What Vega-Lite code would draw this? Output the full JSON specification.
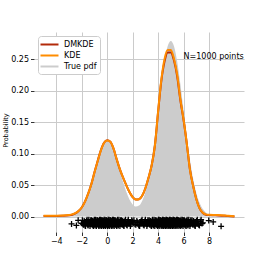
{
  "$schema": "https://vega.github.io/schema/vega-lite/v6.json",
  "width": 210,
  "height": 200,
  "autosize": {"type": "none"},
  "padding": {"left": 34, "top": 32, "right": 26, "bottom": 38},
  "background": "white",
  "config": {
    "view": {"stroke": null},
    "font": "DejaVu Sans",
    "axis": {
      "domain": false,
      "grid": true,
      "gridColor": "#cbcbcb",
      "gridWidth": 1,
      "tickColor": "#333333",
      "tickSize": 3.5,
      "tickWidth": 1,
      "labelFont": "DejaVu Sans",
      "labelFontSize": 8,
      "labelColor": "#000000",
      "labelPadding": 2,
      "titleFont": "DejaVu Sans",
      "titleFontWeight": "normal",
      "titleColor": "#000000"
    }
  },
  "datasets": {
    "pdf": [
      {"x": -5, "y": 0}, {"x": -4, "y": 0.00004}, {"x": -3.5, "y": 0.00026}, {"x": -3, "y": 0.00133},
      {"x": -2.75, "y": 0.00273}, {"x": -2.5, "y": 0.00526}, {"x": -2.25, "y": 0.00952}, {"x": -2, "y": 0.0162},
      {"x": -1.75, "y": 0.02588}, {"x": -1.5, "y": 0.03886}, {"x": -1.25, "y": 0.0548}, {"x": -1, "y": 0.07259},
      {"x": -0.75, "y": 0.09034}, {"x": -0.5, "y": 0.10562}, {"x": -0.25, "y": 0.116}, {"x": 0, "y": 0.11968},
      {"x": 0.25, "y": 0.116}, {"x": 0.5, "y": 0.10562}, {"x": 0.75, "y": 0.09034}, {"x": 1, "y": 0.07268},
      {"x": 1.25, "y": 0.05504}, {"x": 1.5, "y": 0.03947}, {"x": 1.75, "y": 0.0273}, {"x": 2, "y": 0.0193},
      {"x": 2.25, "y": 0.01588}, {"x": 2.5, "y": 0.01753}, {"x": 2.75, "y": 0.02495}, {"x": 3, "y": 0.03912},
      {"x": 3.25, "y": 0.06101}, {"x": 3.5, "y": 0.09092}, {"x": 3.75, "y": 0.12797}, {"x": 4, "y": 0.16942},
      {"x": 4.25, "y": 0.2108}, {"x": 4.5, "y": 0.24645}, {"x": 4.75, "y": 0.27067}, {"x": 5, "y": 0.27926},
      {"x": 5.25, "y": 0.27067}, {"x": 5.5, "y": 0.24645}, {"x": 5.75, "y": 0.2108}, {"x": 6, "y": 0.16938},
      {"x": 6.25, "y": 0.12786}, {"x": 6.5, "y": 0.09066}, {"x": 6.75, "y": 0.0604}, {"x": 7, "y": 0.03779},
      {"x": 7.25, "y": 0.02222}, {"x": 7.5, "y": 0.01227}, {"x": 7.75, "y": 0.00636}, {"x": 8, "y": 0.0031},
      {"x": 8.5, "y": 0.00061}, {"x": 9, "y": 0.00009}, {"x": 10, "y": 0}
    ],
    "dmkde": [
      {"x": -5, "y": 0.0008}, {"x": -4.5, "y": 0.0008}, {"x": -4, "y": 0.0009}, {"x": -3.5, "y": 0.0012},
      {"x": -3, "y": 0.002}, {"x": -2.75, "y": 0.003}, {"x": -2.5, "y": 0.005}, {"x": -2.25, "y": 0.0088},
      {"x": -2, "y": 0.0145}, {"x": -1.75, "y": 0.0237}, {"x": -1.5, "y": 0.0363}, {"x": -1.25, "y": 0.0515},
      {"x": -1, "y": 0.0705}, {"x": -0.75, "y": 0.0885}, {"x": -0.5, "y": 0.1055}, {"x": -0.25, "y": 0.1175},
      {"x": 0, "y": 0.1215}, {"x": 0.25, "y": 0.119}, {"x": 0.5, "y": 0.108}, {"x": 0.75, "y": 0.091},
      {"x": 1, "y": 0.075}, {"x": 1.25, "y": 0.062}, {"x": 1.5, "y": 0.05}, {"x": 1.75, "y": 0.039},
      {"x": 2, "y": 0.031}, {"x": 2.25, "y": 0.027}, {"x": 2.5, "y": 0.0275}, {"x": 2.75, "y": 0.033},
      {"x": 3, "y": 0.045}, {"x": 3.25, "y": 0.062}, {"x": 3.5, "y": 0.082}, {"x": 3.75, "y": 0.113},
      {"x": 4, "y": 0.166}, {"x": 4.25, "y": 0.215}, {"x": 4.5, "y": 0.246}, {"x": 4.75, "y": 0.261},
      {"x": 5, "y": 0.261}, {"x": 5.25, "y": 0.248}, {"x": 5.5, "y": 0.223}, {"x": 5.75, "y": 0.185},
      {"x": 6, "y": 0.154}, {"x": 6.25, "y": 0.117}, {"x": 6.5, "y": 0.075}, {"x": 6.75, "y": 0.049},
      {"x": 7, "y": 0.028}, {"x": 7.25, "y": 0.0135}, {"x": 7.5, "y": 0.006}, {"x": 7.75, "y": 0.003},
      {"x": 8, "y": 0.0025}, {"x": 8.5, "y": 0.002}, {"x": 9, "y": 0.0015}, {"x": 9.5, "y": 0.0008}, {"x": 10, "y": 0.0003}
    ],
    "kde": [
      {"x": -5, "y": 0.0015}, {"x": -4.5, "y": 0.0015}, {"x": -4, "y": 0.0015}, {"x": -3.5, "y": 0.0017},
      {"x": -3, "y": 0.0025}, {"x": -2.75, "y": 0.0035}, {"x": -2.5, "y": 0.0055}, {"x": -2.25, "y": 0.009},
      {"x": -2, "y": 0.0145}, {"x": -1.75, "y": 0.0235}, {"x": -1.5, "y": 0.036}, {"x": -1.25, "y": 0.051},
      {"x": -1, "y": 0.07}, {"x": -0.75, "y": 0.088}, {"x": -0.5, "y": 0.105}, {"x": -0.25, "y": 0.117},
      {"x": 0, "y": 0.121}, {"x": 0.25, "y": 0.119}, {"x": 0.5, "y": 0.108}, {"x": 0.75, "y": 0.091},
      {"x": 1, "y": 0.075}, {"x": 1.25, "y": 0.062}, {"x": 1.5, "y": 0.05}, {"x": 1.75, "y": 0.039},
      {"x": 2, "y": 0.031}, {"x": 2.25, "y": 0.027}, {"x": 2.5, "y": 0.0275}, {"x": 2.75, "y": 0.033},
      {"x": 3, "y": 0.045}, {"x": 3.25, "y": 0.062}, {"x": 3.5, "y": 0.082}, {"x": 3.75, "y": 0.113},
      {"x": 4, "y": 0.167}, {"x": 4.25, "y": 0.217}, {"x": 4.5, "y": 0.25}, {"x": 4.75, "y": 0.265},
      {"x": 5, "y": 0.265}, {"x": 5.25, "y": 0.251}, {"x": 5.5, "y": 0.226}, {"x": 5.75, "y": 0.187},
      {"x": 6, "y": 0.155}, {"x": 6.25, "y": 0.117}, {"x": 6.5, "y": 0.075}, {"x": 6.75, "y": 0.049},
      {"x": 7, "y": 0.028}, {"x": 7.25, "y": 0.0135}, {"x": 7.5, "y": 0.0065}, {"x": 7.75, "y": 0.0035},
      {"x": 8, "y": 0.003}, {"x": 8.5, "y": 0.0025}, {"x": 9, "y": 0.002}, {"x": 9.5, "y": 0.0012}, {"x": 10, "y": 0.0005}
    ],
    "samples": [
      {"x": -2.8, "y": -0.0116}, {"x": -2.42, "y": -0.014}, {"x": -2.28, "y": -0.006}, {"x": -2.02, "y": -0.0106},
      {"x": -1.95, "y": -0.006}, {"x": -1.85, "y": -0.013}, {"x": -1.78, "y": -0.009}, {"x": -1.7, "y": -0.015},
      {"x": -1.62, "y": -0.007}, {"x": -1.55, "y": -0.011}, {"x": -1.5, "y": -0.014}, {"x": -1.44, "y": -0.005},
      {"x": -1.38, "y": -0.01}, {"x": -1.32, "y": -0.012}, {"x": -1.27, "y": -0.008}, {"x": -1.22, "y": -0.006},
      {"x": -1.17, "y": -0.013}, {"x": -1.12, "y": -0.009}, {"x": -1.08, "y": -0.015}, {"x": -1.03, "y": -0.007},
      {"x": -0.99, "y": -0.011}, {"x": -0.95, "y": -0.014}, {"x": -0.91, "y": -0.005}, {"x": -0.87, "y": -0.01},
      {"x": -0.83, "y": -0.012}, {"x": -0.79, "y": -0.008}, {"x": -0.75, "y": -0.006}, {"x": -0.72, "y": -0.013},
      {"x": -0.68, "y": -0.009}, {"x": -0.65, "y": -0.015}, {"x": -0.61, "y": -0.007}, {"x": -0.58, "y": -0.011},
      {"x": -0.55, "y": -0.014}, {"x": -0.51, "y": -0.005}, {"x": -0.48, "y": -0.01}, {"x": -0.45, "y": -0.012},
      {"x": -0.42, "y": -0.008}, {"x": -0.39, "y": -0.006}, {"x": -0.36, "y": -0.013}, {"x": -0.33, "y": -0.009},
      {"x": -0.3, "y": -0.015}, {"x": -0.27, "y": -0.007}, {"x": -0.24, "y": -0.011}, {"x": -0.21, "y": -0.014},
      {"x": -0.18, "y": -0.005}, {"x": -0.15, "y": -0.01}, {"x": -0.12, "y": -0.012}, {"x": -0.09, "y": -0.008},
      {"x": -0.06, "y": -0.006}, {"x": -0.03, "y": -0.013}, {"x": 0, "y": -0.009}, {"x": 0.03, "y": -0.015},
      {"x": 0.06, "y": -0.007}, {"x": 0.09, "y": -0.011}, {"x": 0.12, "y": -0.014}, {"x": 0.15, "y": -0.005},
      {"x": 0.18, "y": -0.01}, {"x": 0.21, "y": -0.012}, {"x": 0.24, "y": -0.008}, {"x": 0.27, "y": -0.006},
      {"x": 0.3, "y": -0.013}, {"x": 0.33, "y": -0.009}, {"x": 0.36, "y": -0.015}, {"x": 0.39, "y": -0.007},
      {"x": 0.42, "y": -0.011}, {"x": 0.46, "y": -0.014}, {"x": 0.49, "y": -0.005}, {"x": 0.53, "y": -0.01},
      {"x": 0.56, "y": -0.012}, {"x": 0.6, "y": -0.008}, {"x": 0.63, "y": -0.006}, {"x": 0.67, "y": -0.013},
      {"x": 0.71, "y": -0.009}, {"x": 0.75, "y": -0.015}, {"x": 0.79, "y": -0.007}, {"x": 0.83, "y": -0.011},
      {"x": 0.87, "y": -0.014}, {"x": 0.92, "y": -0.005}, {"x": 0.97, "y": -0.01}, {"x": 1.02, "y": -0.012},
      {"x": 1.07, "y": -0.008}, {"x": 1.13, "y": -0.006}, {"x": 1.19, "y": -0.013}, {"x": 1.25, "y": -0.009},
      {"x": 1.32, "y": -0.015}, {"x": 1.4, "y": -0.007}, {"x": 1.48, "y": -0.011}, {"x": 1.57, "y": -0.014},
      {"x": 1.66, "y": -0.005}, {"x": 1.76, "y": -0.01}, {"x": 1.87, "y": -0.012}, {"x": 1.98, "y": -0.008},
      {"x": 2.1, "y": -0.006}, {"x": 2.25, "y": -0.013}, {"x": 2.4, "y": -0.009}, {"x": 2.55, "y": -0.015},
      {"x": 2.68, "y": -0.007}, {"x": 2.8, "y": -0.011}, {"x": 2.9, "y": -0.014}, {"x": 3.0, "y": -0.005},
      {"x": 3.08, "y": -0.01}, {"x": 3.16, "y": -0.012}, {"x": 3.23, "y": -0.008}, {"x": 3.3, "y": -0.006},
      {"x": 3.36, "y": -0.013}, {"x": 3.42, "y": -0.009}, {"x": 3.48, "y": -0.015}, {"x": 3.53, "y": -0.007},
      {"x": 3.58, "y": -0.011}, {"x": 3.63, "y": -0.014}, {"x": 3.68, "y": -0.005}, {"x": 3.72, "y": -0.01},
      {"x": 3.76, "y": -0.012}, {"x": 3.8, "y": -0.008}, {"x": 3.84, "y": -0.006}, {"x": 3.88, "y": -0.013},
      {"x": 3.92, "y": -0.009}, {"x": 3.96, "y": -0.015}, {"x": 4.0, "y": -0.007}, {"x": 4.03, "y": -0.011},
      {"x": 4.06, "y": -0.014}, {"x": 4.09, "y": -0.005}, {"x": 4.12, "y": -0.01}, {"x": 4.15, "y": -0.012},
      {"x": 4.18, "y": -0.008}, {"x": 4.21, "y": -0.006}, {"x": 4.24, "y": -0.013}, {"x": 4.27, "y": -0.009},
      {"x": 4.3, "y": -0.015}, {"x": 4.32, "y": -0.007}, {"x": 4.35, "y": -0.011}, {"x": 4.37, "y": -0.014},
      {"x": 4.4, "y": -0.005}, {"x": 4.42, "y": -0.01}, {"x": 4.45, "y": -0.012}, {"x": 4.47, "y": -0.008},
      {"x": 4.5, "y": -0.006}, {"x": 4.52, "y": -0.013}, {"x": 4.55, "y": -0.009}, {"x": 4.57, "y": -0.015},
      {"x": 4.6, "y": -0.007}, {"x": 4.62, "y": -0.011}, {"x": 4.65, "y": -0.014}, {"x": 4.67, "y": -0.005},
      {"x": 4.7, "y": -0.01}, {"x": 4.72, "y": -0.012}, {"x": 4.75, "y": -0.008}, {"x": 4.77, "y": -0.006},
      {"x": 4.8, "y": -0.013}, {"x": 4.82, "y": -0.009}, {"x": 4.85, "y": -0.015}, {"x": 4.87, "y": -0.007},
      {"x": 4.9, "y": -0.011}, {"x": 4.92, "y": -0.014}, {"x": 4.95, "y": -0.005}, {"x": 4.97, "y": -0.01},
      {"x": 5.0, "y": -0.012}, {"x": 5.02, "y": -0.008}, {"x": 5.05, "y": -0.006}, {"x": 5.07, "y": -0.013},
      {"x": 5.1, "y": -0.009}, {"x": 5.12, "y": -0.015}, {"x": 5.15, "y": -0.007}, {"x": 5.17, "y": -0.011},
      {"x": 5.2, "y": -0.014}, {"x": 5.22, "y": -0.005}, {"x": 5.25, "y": -0.01}, {"x": 5.27, "y": -0.012},
      {"x": 5.3, "y": -0.008}, {"x": 5.32, "y": -0.006}, {"x": 5.35, "y": -0.013}, {"x": 5.37, "y": -0.009},
      {"x": 5.4, "y": -0.015}, {"x": 5.43, "y": -0.007}, {"x": 5.46, "y": -0.011}, {"x": 5.49, "y": -0.014},
      {"x": 5.52, "y": -0.005}, {"x": 5.55, "y": -0.01}, {"x": 5.58, "y": -0.012}, {"x": 5.61, "y": -0.008},
      {"x": 5.64, "y": -0.006}, {"x": 5.67, "y": -0.013}, {"x": 5.7, "y": -0.009}, {"x": 5.74, "y": -0.015},
      {"x": 5.78, "y": -0.007}, {"x": 5.82, "y": -0.011}, {"x": 5.86, "y": -0.014}, {"x": 5.9, "y": -0.005},
      {"x": 5.94, "y": -0.01}, {"x": 5.98, "y": -0.012}, {"x": 6.02, "y": -0.008}, {"x": 6.06, "y": -0.006},
      {"x": 6.1, "y": -0.013}, {"x": 6.15, "y": -0.009}, {"x": 6.2, "y": -0.015}, {"x": 6.25, "y": -0.007},
      {"x": 6.3, "y": -0.011}, {"x": 6.35, "y": -0.014}, {"x": 6.41, "y": -0.005}, {"x": 6.47, "y": -0.01},
      {"x": 6.53, "y": -0.012}, {"x": 6.6, "y": -0.008}, {"x": 6.67, "y": -0.006}, {"x": 6.75, "y": -0.013},
      {"x": 6.83, "y": -0.009}, {"x": 6.92, "y": -0.015}, {"x": 7.02, "y": -0.007}, {"x": 7.13, "y": -0.011},
      {"x": 7.25, "y": -0.014}, {"x": 7.38, "y": -0.005}, {"x": 7.52, "y": -0.01},
      {"x": 7.98, "y": -0.0063}, {"x": 8.33, "y": -0.0085}, {"x": 8.95, "y": -0.0154},
      {"x": -1.9, "y": -0.012}, {"x": -1.81, "y": -0.007}, {"x": -1.74, "y": -0.014}, {"x": -1.66, "y": -0.009},
      {"x": -1.58, "y": -0.005}, {"x": -1.52, "y": -0.013}, {"x": -1.47, "y": -0.008}, {"x": -1.41, "y": -0.011},
      {"x": -1.35, "y": -0.015}, {"x": -1.29, "y": -0.006}, {"x": -1.24, "y": -0.01}, {"x": -1.19, "y": -0.012},
      {"x": -1.14, "y": -0.007}, {"x": -1.1, "y": -0.014}, {"x": -1.05, "y": -0.009}, {"x": -1.01, "y": -0.005},
      {"x": -0.97, "y": -0.013}, {"x": -0.93, "y": -0.008}, {"x": -0.89, "y": -0.011}, {"x": -0.85, "y": -0.015},
      {"x": -0.81, "y": -0.006}, {"x": -0.77, "y": -0.01}, {"x": -0.73, "y": -0.012}, {"x": -0.7, "y": -0.007},
      {"x": -0.66, "y": -0.014}, {"x": -0.63, "y": -0.009}, {"x": -0.6, "y": -0.005}, {"x": -0.56, "y": -0.013},
      {"x": -0.53, "y": -0.008}, {"x": -0.5, "y": -0.011}, {"x": -0.46, "y": -0.015}, {"x": -0.43, "y": -0.006},
      {"x": -0.4, "y": -0.01}, {"x": -0.37, "y": -0.012}, {"x": -0.34, "y": -0.007}, {"x": -0.31, "y": -0.014},
      {"x": -0.28, "y": -0.009}, {"x": -0.25, "y": -0.005}, {"x": -0.22, "y": -0.013}, {"x": -0.19, "y": -0.008},
      {"x": -0.16, "y": -0.011}, {"x": -0.13, "y": -0.015}, {"x": -0.1, "y": -0.006}, {"x": -0.07, "y": -0.01},
      {"x": -0.04, "y": -0.012}, {"x": -0.01, "y": -0.007}, {"x": 0.02, "y": -0.014}, {"x": 0.05, "y": -0.009},
      {"x": 0.08, "y": -0.005}, {"x": 0.11, "y": -0.013}, {"x": 0.14, "y": -0.008}, {"x": 0.17, "y": -0.011},
      {"x": 0.2, "y": -0.015}, {"x": 0.23, "y": -0.006}, {"x": 0.26, "y": -0.01}, {"x": 0.29, "y": -0.012},
      {"x": 0.32, "y": -0.007}, {"x": 0.35, "y": -0.014}, {"x": 0.38, "y": -0.009}, {"x": 0.41, "y": -0.005},
      {"x": 0.44, "y": -0.013}, {"x": 0.47, "y": -0.008}, {"x": 0.51, "y": -0.011}, {"x": 0.55, "y": -0.015},
      {"x": 0.58, "y": -0.006}, {"x": 0.62, "y": -0.01}, {"x": 0.65, "y": -0.012}, {"x": 0.69, "y": -0.007},
      {"x": 0.73, "y": -0.014}, {"x": 0.77, "y": -0.009}, {"x": 0.81, "y": -0.005}, {"x": 0.85, "y": -0.013},
      {"x": 0.9, "y": -0.008}, {"x": 0.95, "y": -0.011}, {"x": 1.0, "y": -0.015}, {"x": 1.05, "y": -0.006},
      {"x": 1.1, "y": -0.01}, {"x": 1.16, "y": -0.012}, {"x": 1.22, "y": -0.007}, {"x": 1.29, "y": -0.014},
      {"x": 1.36, "y": -0.009}, {"x": 1.44, "y": -0.005}, {"x": 1.52, "y": -0.013}, {"x": 1.62, "y": -0.008},
      {"x": 1.71, "y": -0.011}, {"x": 1.82, "y": -0.015}, {"x": 1.93, "y": -0.006}, {"x": 2.04, "y": -0.01},
      {"x": 2.18, "y": -0.012}, {"x": 2.33, "y": -0.007}, {"x": 2.48, "y": -0.014}, {"x": 2.62, "y": -0.009},
      {"x": 2.74, "y": -0.005}, {"x": 2.85, "y": -0.013}, {"x": 2.95, "y": -0.008}, {"x": 3.04, "y": -0.011},
      {"x": 3.12, "y": -0.015}, {"x": 3.2, "y": -0.006}, {"x": 3.27, "y": -0.01}, {"x": 3.33, "y": -0.012},
      {"x": 3.39, "y": -0.007}, {"x": 3.45, "y": -0.014}, {"x": 3.51, "y": -0.009}, {"x": 3.56, "y": -0.005},
      {"x": 3.61, "y": -0.013}, {"x": 3.66, "y": -0.008}, {"x": 3.7, "y": -0.011}, {"x": 3.74, "y": -0.015},
      {"x": 3.78, "y": -0.006}, {"x": 3.82, "y": -0.01}, {"x": 3.86, "y": -0.012}, {"x": 3.9, "y": -0.007},
      {"x": 3.94, "y": -0.014}, {"x": 3.98, "y": -0.009}, {"x": 4.02, "y": -0.005}, {"x": 4.05, "y": -0.013},
      {"x": 4.08, "y": -0.008}, {"x": 4.11, "y": -0.011}, {"x": 4.14, "y": -0.015}, {"x": 4.17, "y": -0.006},
      {"x": 4.2, "y": -0.01}, {"x": 4.23, "y": -0.012}, {"x": 4.26, "y": -0.007}, {"x": 4.29, "y": -0.014},
      {"x": 4.31, "y": -0.009}, {"x": 4.34, "y": -0.005}, {"x": 4.36, "y": -0.013}, {"x": 4.39, "y": -0.008},
      {"x": 4.41, "y": -0.011}, {"x": 4.44, "y": -0.015}, {"x": 4.46, "y": -0.006}, {"x": 4.49, "y": -0.01},
      {"x": 4.51, "y": -0.012}, {"x": 4.54, "y": -0.007}, {"x": 4.56, "y": -0.014}, {"x": 4.59, "y": -0.009},
      {"x": 4.61, "y": -0.005}, {"x": 4.64, "y": -0.013}, {"x": 4.66, "y": -0.008}, {"x": 4.69, "y": -0.011},
      {"x": 4.71, "y": -0.015}, {"x": 4.74, "y": -0.006}, {"x": 4.76, "y": -0.01}, {"x": 4.79, "y": -0.012},
      {"x": 4.81, "y": -0.007}, {"x": 4.84, "y": -0.014}, {"x": 4.86, "y": -0.009}, {"x": 4.89, "y": -0.005},
      {"x": 4.91, "y": -0.013}, {"x": 4.94, "y": -0.008}, {"x": 4.96, "y": -0.011}, {"x": 4.99, "y": -0.015},
      {"x": 5.01, "y": -0.006}, {"x": 5.04, "y": -0.01}, {"x": 5.06, "y": -0.012}, {"x": 5.09, "y": -0.007},
      {"x": 5.11, "y": -0.014}, {"x": 5.14, "y": -0.009}, {"x": 5.16, "y": -0.005}, {"x": 5.19, "y": -0.013},
      {"x": 5.21, "y": -0.008}, {"x": 5.24, "y": -0.011}, {"x": 5.26, "y": -0.015}, {"x": 5.29, "y": -0.006},
      {"x": 5.31, "y": -0.01}, {"x": 5.34, "y": -0.012}, {"x": 5.36, "y": -0.007}, {"x": 5.39, "y": -0.014},
      {"x": 5.42, "y": -0.009}, {"x": 5.45, "y": -0.005}, {"x": 5.48, "y": -0.013}, {"x": 5.51, "y": -0.008},
      {"x": 5.54, "y": -0.011}, {"x": 5.57, "y": -0.015}, {"x": 5.6, "y": -0.006}, {"x": 5.63, "y": -0.01},
      {"x": 5.66, "y": -0.012}, {"x": 5.69, "y": -0.007}, {"x": 5.72, "y": -0.014}, {"x": 5.76, "y": -0.009},
      {"x": 5.8, "y": -0.005}, {"x": 5.84, "y": -0.013}, {"x": 5.88, "y": -0.008}, {"x": 5.92, "y": -0.011},
      {"x": 5.96, "y": -0.015}, {"x": 6.0, "y": -0.006}, {"x": 6.04, "y": -0.01}, {"x": 6.08, "y": -0.012},
      {"x": 6.12, "y": -0.007}, {"x": 6.18, "y": -0.014}, {"x": 6.23, "y": -0.009}, {"x": 6.28, "y": -0.005},
      {"x": 6.33, "y": -0.013}, {"x": 6.38, "y": -0.008}, {"x": 6.44, "y": -0.011}, {"x": 6.5, "y": -0.015},
      {"x": 6.57, "y": -0.006}, {"x": 6.64, "y": -0.01}, {"x": 6.71, "y": -0.012}, {"x": 6.79, "y": -0.007},
      {"x": 6.88, "y": -0.014}, {"x": 6.97, "y": -0.009}, {"x": 7.08, "y": -0.005}, {"x": 7.19, "y": -0.013},
      {"x": 7.32, "y": -0.008}, {"x": 7.45, "y": -0.011}
    ],
    "note": [{"x": 6, "y": 0.25, "label": "N=1000 points"}]
  },
  "layer": [
    {
      "data": {"name": "pdf"},
      "mark": {"type": "area", "interpolate": "monotone", "opacity": 1},
      "encoding": {
        "x": {
          "field": "x", "type": "quantitative",
          "scale": {"domain": [-5.75, 10.75], "nice": false, "zero": false},
          "axis": {"values": [-4, -2, 0, 2, 4, 6, 8], "tickCount": 20, "title": null, "labelOverlap": false, "labelBound": false, "labelFlush": false}
        },
        "y": {
          "field": "y", "type": "quantitative",
          "scale": {"domain": [-0.0245, 0.2935], "nice": false, "zero": false},
          "axis": {
            "values": [0, 0.05, 0.1, 0.15, 0.2, 0.25], "tickCount": 20, "format": ".2f",
            "labelOverlap": false, "labelBound": false, "labelFlush": false,
            "title": "Probability", "titleFontSize": 6.5, "titleAngle": -90,
            "titleX": -29, "titleY": 98, "titleAlign": "center", "titleBaseline": "middle"
          }
        },
        "y2": {"datum": 0},
        "color": {
          "datum": "True pdf",
          "scale": {"domain": ["DMKDE", "KDE", "True pdf"], "range": ["#b22a0a", "#ff8c00", "#cccccc"]},
          "legend": {
            "title": null, "orient": "none", "legendX": 4, "legendY": 4,
            "fillColor": "white", "strokeColor": "#cccccc", "cornerRadius": 3, "padding": 3,
            "labelFontSize": 8, "labelColor": "#000000", "labelFont": "DejaVu Sans",
            "symbolType": "M-2,0H2", "symbolSize": 81, "symbolStrokeWidth": 2,
            "symbolOffset": 3, "labelOffset": 9, "rowPadding": 1,
            "encode": {
              "symbols": {
                "update": {
                  "shape": {"signal": "datum.value === 'True pdf' ? 'M-2,-0.6H2V0.6H-2Z' : 'M-2,0H2'"},
                  "fill": {"signal": "datum.value === 'True pdf' ? '#cccccc' : 'transparent'"},
                  "stroke": {"signal": "datum.value === 'DMKDE' ? '#b22a0a' : (datum.value === 'KDE' ? '#ff8c00' : 'transparent')"},
                  "strokeWidth": {"value": 2},
                  "opacity": {"value": 1}
                }
              }
            }
          }
        }
      }
    },
    {
      "data": {"name": "dmkde"},
      "mark": {"type": "line", "interpolate": "monotone", "strokeWidth": 2},
      "encoding": {
        "x": {"field": "x", "type": "quantitative"},
        "y": {"field": "y", "type": "quantitative"},
        "color": {"datum": "DMKDE"}
      }
    },
    {
      "data": {"name": "kde"},
      "mark": {"type": "line", "interpolate": "monotone", "strokeWidth": 2},
      "encoding": {
        "x": {"field": "x", "type": "quantitative"},
        "y": {"field": "y", "type": "quantitative"},
        "color": {"datum": "KDE"}
      }
    },
    {
      "data": {"name": "samples"},
      "mark": {"type": "point", "shape": "M-1,0H1M0,-1V1", "size": 36, "filled": false, "stroke": "#000000", "strokeWidth": 1.3, "opacity": 1},
      "encoding": {
        "x": {"field": "x", "type": "quantitative"},
        "y": {"field": "y", "type": "quantitative"}
      }
    },
    {
      "data": {"name": "note"},
      "mark": {"type": "text", "align": "left", "baseline": "alphabetic", "fontSize": 8, "font": "DejaVu Sans", "color": "#000000"},
      "encoding": {
        "x": {"field": "x", "type": "quantitative"},
        "y": {"field": "y", "type": "quantitative"},
        "text": {"field": "label"}
      }
    }
  ]
}
